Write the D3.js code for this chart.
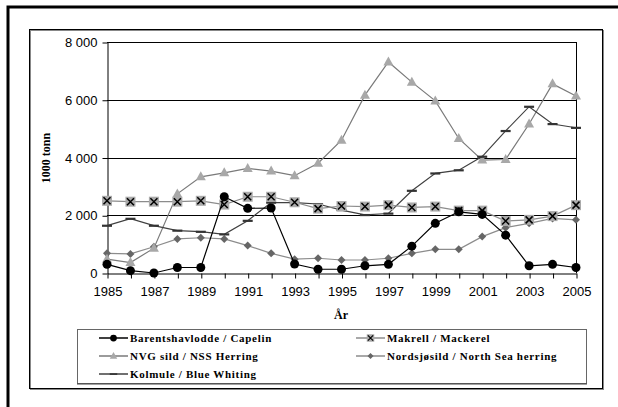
<!DOCTYPE html>
<html>
<head>
<meta charset="utf-8">
<script src="https://cdn.jsdelivr.net/npm/d3@7"></script>
<style>
  body { margin: 0; background: #fff; }
  svg { display: block; }
</style>
</head>
<body>
<svg id="chart" width="618" height="407"></svg>
<script>
// years on the x axis
const years = d3.range(1985, 2006);
const yTicks = [0, 2000, 4000, 6000, 8000];

// catches, 1000 tonn
const capelin = [300, 80, 0, 190, 190, 2640, 2240, 2250, 310, 130, 130, 250, 300, 930, 1720, 2120, 2030, 1310, 250, 300, 190];
const mackerel = [2500, 2470, 2470, 2470, 2500, 2370, 2640, 2640, 2450, 2230, 2320, 2300, 2350, 2270, 2300, 2160, 2160, 1800, 1840, 1970, 2350];
const nssHerring = [480, 360, 860, 2740, 3330, 3470, 3620, 3530, 3370, 3800, 4600, 6160, 7310, 6610, 5960, 4660, 3910, 3930, 5160, 6550, 6130];
const northSea = [680, 660, 910, 1180, 1220, 1180, 950, 680, 480, 510, 450, 450, 510, 680, 820, 820, 1260, 1570, 1720, 1890, 1840];
const blueWhiting = [1640, 1880, 1640, 1470, 1430, 1340, 1810, 2440, 2440, 2390, 2180, 2010, 2060, 2850, 3450, 3560, 4030, 4920, 5760, 5160, 5030];

const series = [
  { name: "Barentshavlodde / Capelin", values: capelin, line: "#000", marker: "circle" },
  { name: "Makrell / Mackerel", values: mackerel, line: "#8c8c8c", marker: "xsquare" },
  { name: "NVG sild / NSS Herring", values: nssHerring, line: "#7a7a7a", marker: "triangle" },
  { name: "Nordsjøsild / North Sea herring", values: northSea, line: "#8c8c8c", marker: "diamond" },
  { name: "Kolmule / Blue Whiting", values: blueWhiting, line: "#404040", marker: "dash" }
];

const svg = d3.select("#chart");
const plot = { left: 107, right: 576, top: 42, bottom: 273 };

// outer frame and chart box
svg.append("rect").attr("x", 8).attr("y", 7).attr("width", 700).attr("height", 500)
  .attr("fill", "none").attr("stroke", "#000").attr("stroke-width", 3);
svg.append("rect").attr("x", 30.5).attr("y", 30.5).attr("width", 573).attr("height", 359)
  .attr("fill", "none").attr("stroke", "#888").attr("stroke-width", 1);
svg.append("rect").attr("x", 29.5).attr("y", 29.5).attr("width", 573).attr("height", 359)
  .attr("fill", "none").attr("stroke", "#000").attr("stroke-width", 1);

const x = d3.scaleLinear().domain([1985, 2005]).range([plot.left, plot.right]);
const y = d3.scaleLinear().domain([0, 8000]).range([plot.bottom, plot.top]);

// gridlines
svg.append("g").selectAll("line").data(yTicks.slice(1))
  .join("line")
  .attr("x1", plot.left).attr("x2", plot.right)
  .attr("y1", d => Math.round(y(d)) + 0.5).attr("y2", d => Math.round(y(d)) + 0.5)
  .attr("stroke", "#000").attr("stroke-width", 1);

svg.append("line").attr("x1", plot.right + 0.5).attr("x2", plot.right + 0.5)
  .attr("y1", y(8000)).attr("y2", plot.bottom).attr("stroke", "#000");

const fmt = d => d3.format(",")(d).replace(/,/g, " ");

const yAxis = svg.append("g").attr("transform", `translate(${plot.left + 0.5},0.5)`)
  .call(d3.axisLeft(y).tickValues(yTicks).tickFormat(fmt).tickSize(5).tickSizeOuter(0).tickPadding(5));
const xAxis = svg.append("g").attr("transform", `translate(0.5,${plot.bottom + 0.5})`)
  .call(d3.axisBottom(x).tickValues(years).tickFormat(d => d % 2 ? d : "").tickSize(5).tickSizeOuter(0).tickPadding(8));

[yAxis, xAxis].forEach(a => {
  a.selectAll("path, line").attr("stroke", "#000");
  a.selectAll("text").attr("fill", "#000").style("font-family", "Arial, 'Liberation Sans', sans-serif").style("font-size", "13px");
});

// axis titles
svg.append("text").attr("transform", "translate(50,158) rotate(-90)")
  .attr("text-anchor", "middle")
  .style("font-family", "'Liberation Serif', 'Times New Roman', serif").style("font-weight", "bold").style("font-size", "12px")
  .text("1000 tonn");
svg.append("text").attr("x", 341).attr("y", 319).attr("text-anchor", "middle")
  .style("font-family", "'Liberation Serif', 'Times New Roman', serif").style("font-weight", "bold").style("font-size", "12px")
  .text("År");

function drawMarker(g, type, cx, cy) {
  if (type === "circle") {
    g.append("circle").attr("cx", cx).attr("cy", cy).attr("r", 4.5).attr("fill", "#000");
  } else if (type === "xsquare") {
    g.append("rect").attr("x", cx - 5).attr("y", cy - 5).attr("width", 10).attr("height", 10).attr("fill", "#aaa");
    g.append("path").attr("d", `M${cx - 3.5},${cy - 3.5}L${cx + 3.5},${cy + 3.5}M${cx + 3.5},${cy - 3.5}L${cx - 3.5},${cy + 3.5}`)
      .attr("stroke", "#000").attr("stroke-width", 1.5);
  } else if (type === "triangle") {
    g.append("path").attr("d", `M${cx},${cy - 5.5}L${cx + 5},${cy + 3.5}L${cx - 5},${cy + 3.5}Z`).attr("fill", "#a8a8a8");
  } else if (type === "diamond") {
    g.append("path").attr("d", `M${cx},${cy - 4}L${cx + 4},${cy}L${cx},${cy + 4}L${cx - 4},${cy}Z`).attr("fill", "#666");
  } else if (type === "dash") {
    g.append("rect").attr("x", cx - 5).attr("y", cy - 1).attr("width", 10).attr("height", 2.2).attr("fill", "#333");
  }
}

const line = d3.line().x((d, i) => x(years[i])).y(d => y(d));

const drawOrder = [3, 2, 4, 1, 0];
drawOrder.forEach(k => {
  const s = series[k];
  const g = svg.append("g");
  g.append("path").datum(s.values).attr("fill", "none").attr("stroke", s.line).attr("stroke-width", 1.2).attr("d", line);
  s.values.forEach((v, i) => drawMarker(g, s.marker, x(years[i]), y(v)));
});

// legend
svg.append("rect").attr("x", 77.5).attr("y", 329.5).attr("width", 509).attr("height", 54)
  .attr("fill", "none").attr("stroke", "#666").attr("stroke-width", 1);
svg.append("line").attr("x1", 77).attr("x2", 587).attr("y1", 384).attr("y2", 384).attr("stroke", "#444");

const legendPos = [
  { x: 99, y: 338 }, { x: 356, y: 338 },
  { x: 99, y: 356 }, { x: 356, y: 356 },
  { x: 99, y: 374 }
];
series.forEach((s, i) => {
  const p = legendPos[i];
  const g = svg.append("g");
  g.append("line").attr("x1", p.x).attr("x2", p.x + 29).attr("y1", p.y).attr("y2", p.y)
    .attr("stroke", s.line).attr("stroke-width", 1.5);
  const gm = g.append("g").attr("transform", `translate(${p.x + 14.5},${p.y}) scale(0.75)`);
  drawMarker(gm, s.marker, 0, 0);
  g.append("text").attr("x", p.x + 31).attr("y", p.y + 4)
    .style("font-family", "'Liberation Serif', 'Times New Roman', serif").style("font-weight", "bold")
    .style("font-size", "11px").style("letter-spacing", "0.7px")
    .text(s.name);
});
</script>
</body>
</html>
